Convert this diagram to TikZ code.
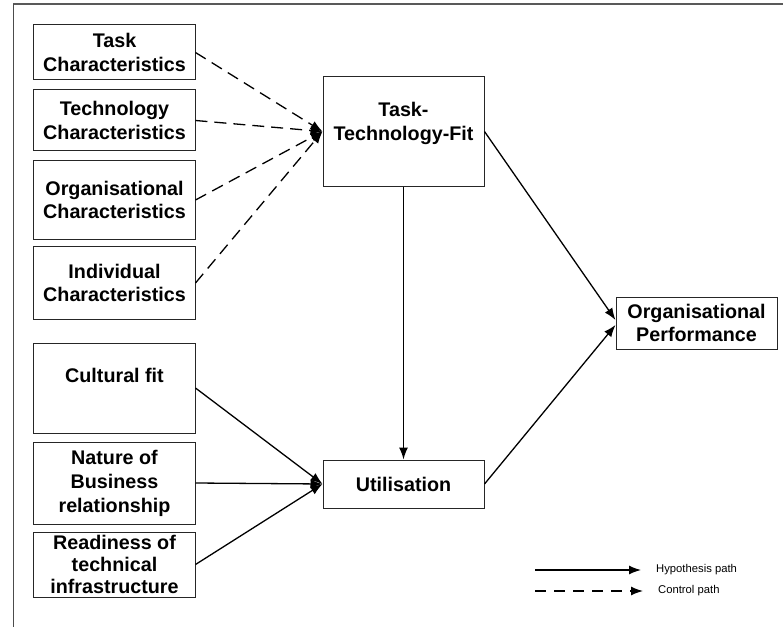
\documentclass[tikz,border=0pt]{standalone}
\usepackage{fontspec}
\setmainfont{Liberation Sans}
\usetikzlibrary{arrows.meta}
\begin{document}
\begin{tikzpicture}[x=1bp,y=-1bp,
  box/.style={draw=black!85, line width=1bp, rectangle, inner sep=1bp, align=center,
    font=\bfseries\fontsize{19.8}{23.5}\selectfont},
  arr/.style={line width=1.3bp, -{Latex[length=12bp,width=9bp]}},
  ctl/.style={arr, dash pattern=on 12bp off 7bp},
  legtext/.style={anchor=west, inner sep=0pt, font=\fontsize{11.3}{13}\selectfont}]
\useasboundingbox (0,0) rectangle (783,627);
% frame
\draw[black!65, line width=1.8bp] (13,4) -- (783,4);
\draw[black!70, line width=1bp] (13,4) -- (13,627);
% left boxes
\node[box, minimum width=161bp, minimum height=55bp] (task) at (114.5,52.5) {Task\\Characteristics};
\node[box, minimum width=161bp, minimum height=61bp] (tech) at (114.5,120.5) {Technology\\Characteristics};
\node[box, minimum width=161bp, minimum height=78bp] (org) at (114.5,200) {Organisational\\Characteristics};
\node[box, minimum width=161bp, minimum height=73bp] (ind) at (114.5,283) {Individual\\Characteristics};
\node[box, minimum width=161bp, minimum height=90bp] (cult) at (114.5,388) {Cultural fit\\[1bp]\mbox{}};
\node[box, minimum width=161bp, minimum height=82bp, font=\bfseries\fontsize{19.8}{24}\selectfont] (nat) at (114.5,483) {Nature of\\Business\\relationship};
\node[box, minimum width=161bp, minimum height=65bp, inner sep=0pt, font=\bfseries\fontsize{19.8}{22.5}\selectfont] (ready) at (114.5,564.5) {Readiness of\\technical\\infrastructure};
% centre boxes
\node[box, minimum width=161bp, minimum height=109bp] (ttf) at (403.5,131.5) {Task-\\Technology-Fit\\[-3bp]\mbox{}};
\node[box, minimum width=161bp, minimum height=48bp] (util) at (403.5,484) {Utilisation};
\node[box, minimum width=161bp, minimum height=52bp, font=\bfseries\fontsize{19.8}{22.5}\selectfont] (op) at (696.5,323) {Organisational\\Performance};
% control paths
\draw[ctl] (task.east) -- (ttf.west);
\draw[ctl] (tech.east) -- (ttf.west);
\draw[ctl] (org.east) -- (ttf.west);
\draw[ctl] (ind.east) -- (ttf.west);
% hypothesis paths
\draw[arr] (cult.east) -- (util.west);
\draw[arr] (nat.east) -- (util.west);
\draw[arr] (ready.east) -- (util.west);
\draw[arr] (ttf.south) -- (util.north);
\draw[arr] (ttf.east) -- ([yshift=3bp]op.west);
\draw[arr] (util.east) -- ([yshift=-2bp]op.west);
% legend
\coordinate (h0) at (535,570);
\coordinate (h1) at (641,570);
\coordinate (c0) at (535,591);
\coordinate (c1) at (643,591);
\draw[arr] (h0) -- (h1);
\draw[ctl, dash pattern=on 11bp off 8bp] (c0) -- (c1);
\node[legtext] (hl) at (656,570) {Hypothesis path};
\node[legtext] (cl) at (658,591) {Control path};
\end{tikzpicture}
\end{document}
